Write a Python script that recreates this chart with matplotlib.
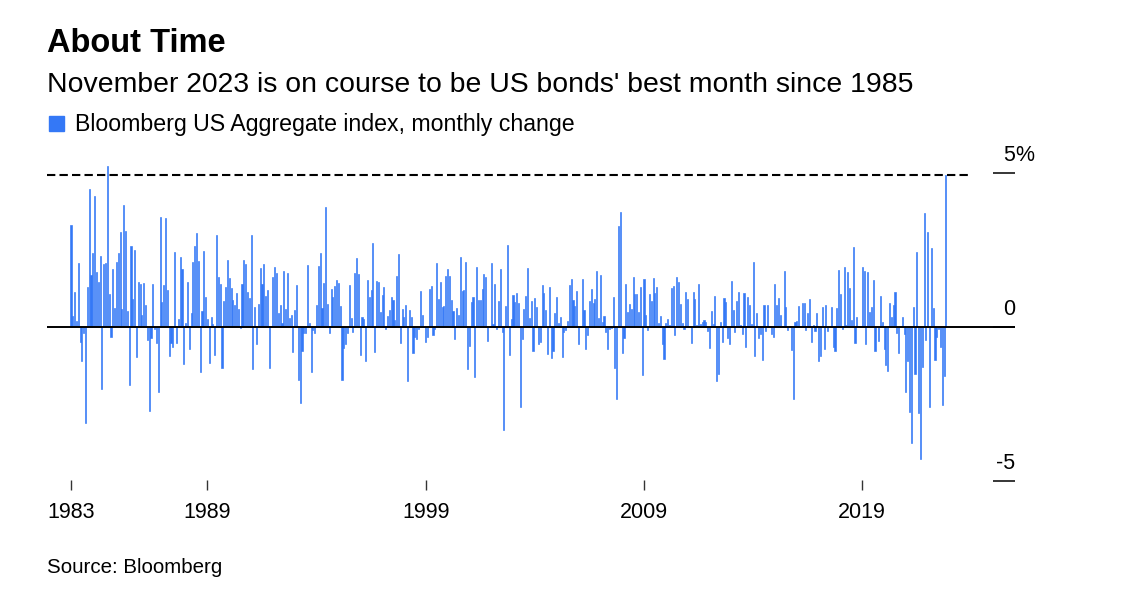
import numpy as np
import pandas as pd
import matplotlib
matplotlib.use("Agg")
import matplotlib.pyplot as plt

# Bloomberg US Aggregate index, monthly change (%), Oct 1983 - Nov 2023
vals_1983_1988 = [3.32, 0.38, 1.16, 0.2, 2.08, -0.49, -1.09, -0.17, -3.1, 1.3,
                  4.5, 1.7, 2.4, 4.26, 1.8, 1.48, 2.3, -2.0, 2.05, 2.08,
                  5.25, 1.08, -0.32, 1.9, 0.62, 2.12, 2.42, 3.08, 0.58, 3.96,
                  3.13, 0.54, -1.88, 2.64, 0.92, 2.5, -0.97, 1.46, 1.4, 0.4,
                  1.43, 0.71, -0.41, -2.72, -0.36, 1.4, -0.05, -0.52, -2.11, 3.57,
                  0.82, 1.37, 3.54, 1.2]
vals_1988_1993 = [-0.92, -0.52, -0.65, 2.43, -0.5, 0.28, 2.28, 1.9, -1.18, 0.14,
                  1.46, -0.69, 0.45, 2.12, 2.65, 3.05, 2.15, -1.46, 0.53, 2.48,
                  0.97, 0.28, -1.17, 0.32, 0.11, -0.9, 2.99, 1.63, 1.4, -1.31,
                  0.85, 1.3, 2.19, 1.59, 1.27, 0.89, 0.71, 1.1, 0.61, -0.03,
                  1.41, 2.19, 2.06, 1.14, 0.94, 3.0, -1.34, 0.67, -0.53, 0.75,
                  1.92, 1.41, 2.06, 1.03, 1.21, -1.31, 0.05, 1.62, 1.95, 1.77,
                  0.45, 0.73, 0.15, 1.83]
vals_1993_1999 = [0.58, 1.77, 0.29, 0.39, -0.81, 0.56, 1.37, -1.71, -2.45, -0.78,
                  -0.17, -0.17, 2.01, 0.14, -1.44, -0.09, -0.2, 0.73, 2.0, 2.4,
                  0.64, 1.43, 3.9, 0.76, -0.2, 1.23, 1.0, 1.33, 1.53, 1.43,
                  0.69, -1.71, -0.68, -0.54, -0.17, 1.37, 0.29, -0.14, 1.75, 2.24,
                  1.73, -0.9, 0.32, 0.27, -1.08, 1.53, 0.98, 1.21, 2.73, -0.81,
                  1.5, 1.47, 0.49, 1.04, 1.31, -0.06, 0.37, 0.55, 0.97, 0.88,
                  0.23, 1.67, 2.37, -0.5, 0.58, 0.32, 0.73]
vals_1999_2004 = [-1.73, 0.56, 0.35, -0.84, -0.3, -0.39, -0.05, 1.18, 0.39, 0.02,
                  -0.47, -0.3, 1.23, 1.34, -0.26, -0.05, 2.1, 0.93, 1.47, 0.65,
                  0.69, 1.67, 1.88, 1.67, 0.89, 0.52, -0.39, 0.62, 0.4, 2.27,
                  1.18, 1.2, 2.11, -1.35, -0.61, 0.83, 1.0, -1.62, 1.96, 0.89,
                  0.89, 1.23, 1.72, 1.63, -0.43, 0.05, 2.08, 0.11, 1.4, -0.05,
                  0.85, 1.89, -0.16, -3.33, 0.69, 2.66, -0.91, 0.27, 1.04, 0.82,
                  1.1, 0.78, -2.58, -0.37, 0.6, 1.02]
vals_2004_2009 = [1.94, 0.29, 0.87, -0.77, 0.94, 0.65, -0.55, -0.49, 1.37, 1.1,
                  0.56, -0.88, 1.3, -1.0, -0.76, 0.45, 0.97, 0.13, 0.35, -0.95,
                  -0.14, -0.09, 0.22, 1.37, 1.56, 0.89, 0.69, 1.18, -0.54, 0.04,
                  1.56, 0.55, -0.71, -0.25, 0.84, 1.24, 0.78, 0.92, 1.82, 0.31,
                  1.7, 0.16, 0.37, -0.14, -0.7, -0.05, -0.03, 0.97, -1.31, -2.34,
                  3.29, 3.75, -0.85, -0.36, 1.41, 0.5, 0.75, 0.58, 1.63, 1.07,
                  1.08, 0.51, 1.31, -1.55, 1.56]
vals_2009_2015 = [0.4, -0.09, 1.07, 0.87, 1.61, 1.1, 1.32, 0.14, 0.38, -0.54,
                  -1.04, 0.13, 0.26, 0.08, 1.29, 1.34, -0.25, 1.62, 1.48, 0.76,
                  0.13, -0.06, 1.13, 0.91, 0.05, -0.52, 1.13, 0.92, 0.09, 1.41,
                  0.11, 0.17, 0.24, 0.18, -0.11, -0.66, 0.52, 0.11, 1.03, -1.73,
                  -1.52, 0.16, -0.49, 0.96, 0.82, -0.34, -0.54, 1.5, 0.55, -0.14,
                  0.85, 1.16, 0.08, -0.22, 1.1, -0.65, 1.0, 0.73, 0.11, 2.11,
                  -0.92, 0.48, -0.34, -0.22, -1.06, 0.73]
vals_2015_2020 = [-0.12, 0.71, 0.03, -0.23, -0.3, 1.41, 0.73, 0.95, 0.4, 0.05,
                  1.83, 0.65, -0.09, 0.04, -0.74, -2.34, 0.16, 0.22, 0.69, 0.05,
                  0.78, 0.78, -0.09, 0.45, 0.92, -0.47, 0.08, -0.11, 0.48, -1.11,
                  -0.92, 0.65, -0.71, 0.73, -0.11, 0.04, 0.65, -0.63, -0.77, 0.62,
                  1.86, 1.08, -0.05, 1.95, 0.06, 1.8, 1.29, 0.24, 2.62, -0.5,
                  0.32, 0.05, 0.04, 1.95, 1.83, -0.55, 1.8, 0.49, 0.65, 1.52,
                  -0.77, 0.02, -0.43, 1.02, 0.16]
vals_2021_2023 = [-0.69, -1.22, -1.42, 0.8, 0.35, 0.71, 1.14, -0.17, -0.84, 0.03,
                  0.32, -0.23, -2.11, -1.08, -2.76, -3.77, 0.65, -1.53, 2.46, -2.79,
                  -4.29, -1.28, 3.7, -0.42, 3.11, -2.58, 2.57, 0.62, -1.06, -0.32,
                  -0.07, -0.63, -2.53, -1.57, 4.93]

values = (vals_1983_1988 + vals_1988_1993 + vals_1993_1999 + vals_1999_2004
          + vals_2004_2009 + vals_2009_2015 + vals_2015_2020 + vals_2021_2023)
dates = pd.date_range("1983-10-01", periods=len(values), freq="MS")

tick_years = [1983, 1989, 1999, 2009, 2019]
y_ticks = [5, 0, -5]

blue = "#3478f6"
plt.rcParams["font.family"] = ["Liberation Sans", "DejaVu Sans"]

W, H = 1142, 604
fig = plt.figure(figsize=(W / 100, H / 100), dpi=100)

# axes box in pixels: x 47..1015, y 150..490 ; zero at y=327.3, 30.8 px per %
ax = fig.add_axes([47 / W, 1 - 490 / H, (1015 - 47) / W, (490 - 150) / H])
x = np.arange(len(values))
ax.bar(x, values, width=0.6, color=blue, edgecolor=blue, linewidth=0.45)

px_month = 1.819
ax.set_xlim((47 - 71) / px_month, (1015 - 71) / px_month)
ax.set_ylim(-(490 - 327.3) / 30.8, (327.3 - 150) / 30.8)

ax.axhline(0, color="black", lw=1.4, zorder=3)
last = values[-1]
ax.plot([ax.get_xlim()[0], len(values) + 12], [last, last], color="black",
        lw=1.5, dashes=(4, 2), zorder=3, solid_capstyle="butt")

for s in ax.spines.values():
    s.set_visible(False)

# x ticks: first month, then year-end of each labelled year
tick_pos = [0] + [dates.searchsorted(pd.Timestamp(f"{y + 1}-01-01")) for y in tick_years[1:]]
ax.set_xticks(tick_pos)
ax.set_xticklabels([str(y) for y in tick_years])
ax.tick_params(axis="x", direction="in", length=7, width=1, color="#333333",
               labelsize=15.5, pad=9)

ax.yaxis.tick_right()
ax.set_yticks(y_ticks)
ax.set_yticklabels([])
ax.tick_params(axis="y", direction="in", length=16, width=1.1, color="black")
for v in y_ticks:
    lbl = str(v)
    ax.annotate(lbl, xy=(1, v), xycoords=("axes fraction", "data"),
                xytext=(0, 9), textcoords="offset points", ha="right",
                va="baseline", fontsize=15.5)
    if v == max(y_ticks):
        ax.annotate("%", xy=(1, v), xycoords=("axes fraction", "data"),
                    xytext=(0, 9), textcoords="offset points", ha="left",
                    va="baseline", fontsize=15.5)

fig.text(47 / W, 1 - 52 / H, "About Time", fontsize=23.5, weight="bold", va="baseline")
fig.text(47 / W, 1 - 92 / H, "November 2023 is on course to be US bonds' best month since 1985",
         fontsize=20.4, va="baseline")
fig.patches.append(plt.Rectangle((49 / W, 1 - 131 / H), 15 / W, 15 / H,
                                 transform=fig.transFigure, color=blue))
fig.text(75 / W, 1 - 131 / H, "Bloomberg US Aggregate index, monthly change",
         fontsize=16.7, va="baseline")
fig.text(47 / W, 1 - 573 / H, "Source: Bloomberg", fontsize=14.8, va="baseline")

fig.savefig("out.png", dpi=100)
